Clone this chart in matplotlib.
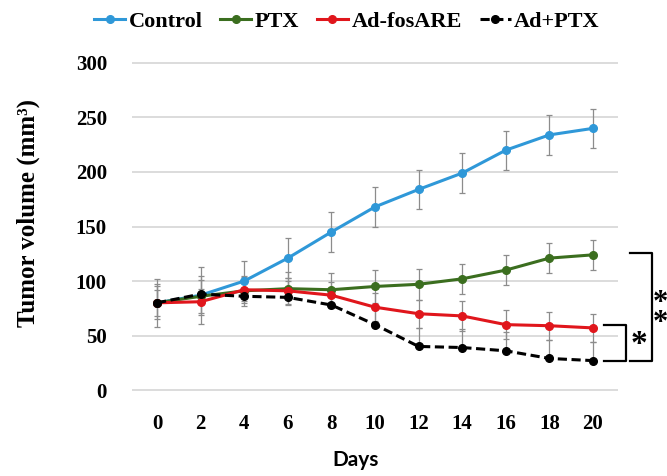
import numpy as np
import matplotlib.pyplot as plt

days = [0, 2, 4, 6, 8, 10, 12, 14, 16, 18, 20]
control = [80, 87, 100, 121, 145, 168, 184, 199, 220, 234, 240]
ptx = [80, 86, 91, 93, 92, 95, 97, 102, 110, 121, 124]
ad_fos = [80, 81, 92, 91, 87, 76, 70, 68, 60, 59, 57]
ad_ptx = [80, 88, 86, 85, 78, 60, 40, 39, 36, 29, 27]

control_err = [22, 26, 18, 18, 18, 18, 18, 18, 18, 18, 18]
ptx_err = [15, 15, 14, 15, 15, 15, 14, 14, 14, 14, 14]
ad_fos_err = [12, 12, 12, 12, 12, 13, 13, 14, 13, 13, 13]
ad_ptx_err_up = [17, 17, 15, 15, 15, 17, 17, 17, 17, 17, 17]

y_ticks = [0, 50, 100, 150, 200, 250, 300]

serif = "Liberation Serif"

fig = plt.figure(figsize=(6.67, 4.76), dpi=100)
ax = fig.add_axes([0.1979, 0.1714, 0.7286, 0.7055])

series = [
    ("Control", control, control_err, None, "#2f98d8", "-"),
    ("PTX", ptx, ptx_err, None, "#3b6e1f", "-"),
    ("Ad-fosARE", ad_fos, ad_fos_err, None, "#e0161c", "-"),
    ("Ad+PTX", ad_ptx, None, ad_ptx_err_up, "black", "--"),
]

for name, vals, err, err_up, col, ls in series:
    if err is not None:
        yerr = err
    else:
        yerr = [np.zeros(len(err_up)), err_up]
    ax.errorbar(days, vals, yerr=yerr, fmt="none", ecolor="#8c8c8c",
                elinewidth=0.9, capsize=2.5, capthick=0.9, zorder=2)
for name, vals, err, err_up, col, ls in series:
    ax.plot(days, vals, color=col, linestyle=ls, linewidth=2.2, marker="o",
            markersize=5.5, markerfacecolor=col, markeredgecolor=col,
            label=name, zorder=3, dashes=(3, 1.5) if ls == "--" else (None, None))

ax.set_xlim(-1.15, 21.15)
ax.set_ylim(-4, 304)
ax.set_xticks(days)
ax.set_yticks(y_ticks)
ax.yaxis.grid(True, color="#d9d9d9", linewidth=1.3)
ax.set_axisbelow(True)
for s in ax.spines.values():
    s.set_visible(False)
ax.tick_params(length=0)
ax.tick_params(axis="y", pad=18)
ax.tick_params(axis="x", pad=14)
for lab in ax.get_xticklabels() + ax.get_yticklabels():
    lab.set_fontfamily(serif)
    lab.set_fontweight("bold")
    lab.set_fontsize(15)

ax.set_xlabel("Days", fontsize=15, fontweight="bold", family="Lato")
ax.xaxis.set_label_coords(0.46, -0.165)
ax.set_ylabel("Tumor volume (mm³)", fontsize=18, fontweight="bold", family=serif)
ax.yaxis.set_label_coords(-0.19, 0.54)

# significance brackets
kw = dict(color="black", linewidth=1.6, clip_on=False, zorder=4)
ax.plot([20.5, 21.5, 21.5, 20.5], [60, 60, 27, 27], **kw)
ax.plot([21.7, 22.7, 22.7, 21.7], [126, 126, 27, 27], **kw)
ax.text(22.1, 42, "*", fontsize=24, fontweight="bold", family=serif,
        ha="center", va="center", clip_on=False)
ax.text(23.1, 70, "*\n*", fontsize=22, fontweight="bold", family=serif,
        ha="center", va="center", linespacing=0.6, clip_on=False)

fig.legend(loc="center", bbox_to_anchor=(0.52, 0.955), ncol=4, frameon=False,
           handlelength=1.4, handletextpad=0.15, columnspacing=0.8,
           prop={"family": serif, "weight": "bold", "size": 16})

fig.savefig("out.png", dpi=100)
